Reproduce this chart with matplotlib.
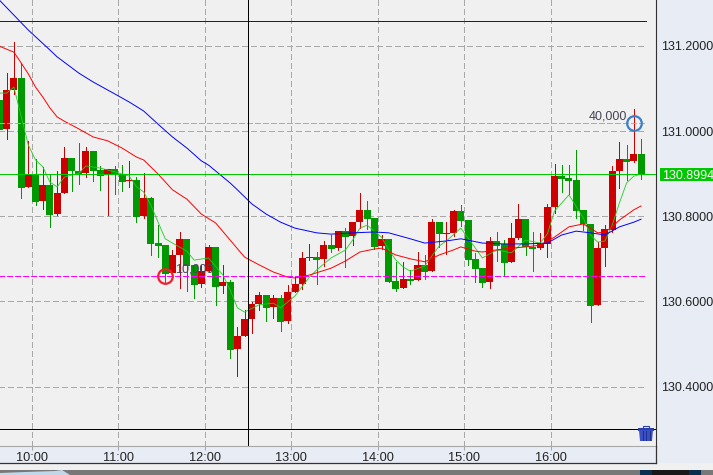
import matplotlib
matplotlib.use('Agg')
import matplotlib.pyplot as plt
from matplotlib.patches import Rectangle, Polygon
import numpy as np

plt.rcParams['font.family'] = ['Liberation Sans', 'DejaVu Sans']

# 5 minute candles
opens = [131.073,131.005,131.096,131.124,130.869,130.899,130.836,130.873,130.805,130.855,
         130.937,130.906,130.901,130.953,130.908,130.897,130.910,130.897,130.883,130.885,
         130.800,130.843,130.737,130.732,130.667,130.709,130.747,130.685,130.641,130.671,
         130.728,130.636,130.646,130.488,130.519,130.559,130.594,130.615,130.587,130.608,
         130.554,130.622,130.641,130.702,130.704,130.699,130.732,130.725,130.765,130.754,
         130.786,130.815,130.796,130.730,130.747,130.648,130.631,130.653,130.650,130.685,
         130.671,130.786,130.758,130.761,130.812,130.791,130.699,130.678,130.646,130.742,
         130.735,130.693,130.749,130.793,130.728,130.725,130.735,130.822,130.894,130.890,
         130.885,130.815,130.782,130.592,130.725,130.768,130.906,130.934,130.930,130.946]
closes = [131.002,131.096,131.124,130.867,130.899,130.834,130.873,130.804,130.855,130.937,
          130.905,130.899,130.953,130.905,130.895,130.910,130.897,130.880,130.885,130.798,
          130.843,130.735,130.730,130.664,130.709,130.747,130.683,130.638,130.671,130.728,
          130.634,130.646,130.486,130.519,130.559,130.594,130.615,130.585,130.608,130.552,
          130.622,130.641,130.702,130.704,130.697,130.732,130.723,130.765,130.751,130.786,
          130.815,130.793,130.728,130.747,130.646,130.629,130.653,130.648,130.685,130.669,
          130.786,130.758,130.761,130.812,130.789,130.697,130.676,130.643,130.742,130.730,
          130.690,130.749,130.793,130.728,130.723,130.735,130.822,130.894,130.888,130.883,
          130.812,130.782,130.589,130.725,130.770,130.906,130.934,130.927,130.946,130.899]
highs = [131.073,131.137,131.209,131.159,130.977,130.934,130.916,130.899,130.906,130.962,
         130.937,130.972,130.962,130.953,130.918,130.910,130.918,130.920,130.930,130.892,
         130.901,130.845,130.779,130.732,130.721,130.763,130.747,130.685,130.685,130.732,
         130.728,130.685,130.650,130.540,130.580,130.599,130.622,130.615,130.615,130.615,
         130.638,130.657,130.716,130.735,130.716,130.742,130.756,130.765,130.772,130.786,
         130.855,130.836,130.796,130.756,130.747,130.693,130.693,130.674,130.716,130.709,
         130.793,130.786,130.786,130.815,130.826,130.791,130.714,130.678,130.751,130.763,
         130.744,130.784,130.829,130.793,130.763,130.761,130.829,130.923,130.920,130.920,
         130.955,130.815,130.782,130.739,130.779,130.918,130.974,130.967,131.052,130.981]
lows = [131.002,130.981,131.087,130.843,130.869,130.827,130.817,130.775,130.803,130.855,
        130.859,130.876,130.892,130.883,130.862,130.803,130.852,130.859,130.868,130.786,
        130.796,130.709,130.704,130.646,130.667,130.631,130.624,130.608,130.634,130.671,
        130.592,130.620,130.467,130.425,130.519,130.526,130.580,130.554,130.561,130.531,
        130.549,130.622,130.629,130.697,130.641,130.683,130.716,130.721,130.681,130.732,
        130.772,130.770,130.723,130.723,130.646,130.624,130.631,130.641,130.650,130.653,
        130.671,130.728,130.711,130.754,130.777,130.685,130.646,130.634,130.631,130.695,
        130.660,130.693,130.746,130.709,130.671,130.723,130.704,130.808,130.857,130.852,
        130.796,130.768,130.552,130.592,130.683,130.763,130.866,130.885,130.927,130.887]

# moving averages, read at some of the candles
blue_k = [0,4,7,8,11,13,16,18,20,22,24,26,28,29,32,33,35,37,39,41,44,46,49,52,54,57,59,62,64,67,70,73,76,78,80,82,84,86,88,89]
blue_v = [131.307,131.237,131.190,131.174,131.136,131.115,131.087,131.068,131.047,131.016,130.986,130.960,130.930,130.920,
          130.878,130.862,130.829,130.805,130.786,130.772,130.761,130.758,130.761,130.763,130.761,130.747,130.737,130.742,
          130.747,130.737,130.735,130.735,130.737,130.756,130.765,130.761,130.756,130.775,130.786,130.793]
red_k = [0,1,2,3,4,5,6,7,8,9,11,13,15,17,19,20,22,24,26,28,30,32,34,36,38,40,41,43,46,48,50,52,53,55,57,59,61,63,64,66,67,69,71,73,75,77,79,81,83,84,85,86,88,89]
red_v = [131.199,131.192,131.185,131.160,131.134,131.103,131.080,131.054,131.033,131.023,131.005,130.986,130.977,130.960,
         130.939,130.932,130.899,130.862,130.840,130.805,130.784,130.744,130.704,130.686,130.669,130.657,130.655,130.662,
         130.678,130.695,130.716,130.723,130.725,130.709,130.700,130.693,130.709,130.721,130.728,130.718,130.716,130.721,
         130.725,130.728,130.732,130.751,130.775,130.782,130.761,130.763,130.775,130.791,130.815,130.824]
lime_k = [0,1,2,3,4,5,6,7,8,9,11,12,14,16,18,19,20,21,22,23,24,26,27,29,31,32,33,34,36,38,39,41,43,44,46,48,49,50,51,53,54,55,56,57,59,60,61,62,64,65,67,69,71,73,75,76,77,79,81,82,83,84,85,86,87,88,89]
lime_v = [131.089,131.089,131.103,131.035,130.967,130.932,130.916,130.880,130.869,130.892,130.901,130.918,130.913,130.904,
          130.894,130.869,130.857,130.826,130.786,130.747,130.737,130.718,130.697,130.702,130.662,130.627,130.585,130.575,
          130.592,130.596,130.585,130.613,130.657,130.674,130.702,130.721,130.744,130.772,130.779,130.751,130.721,130.697,
          130.681,130.671,130.683,130.707,130.730,130.742,130.772,130.749,130.702,130.721,130.714,130.744,130.737,130.758,
          130.812,130.850,130.796,130.756,130.739,130.742,130.779,130.831,130.878,130.894,130.899]

price_ticks = [130.4, 130.6, 130.8, 131.0, 131.2]
price_labels = ['130.4000', '130.6000', '130.8000', '131.0000', '131.2000']
hour_ticks = [4.5, 16.5, 28.5, 40.5, 52.5, 64.5, 76.5]
hour_labels = ['10:00', '11:00', '12:00', '13:00', '14:00', '15:00', '16:00']

last_price = 130.8994
top_line = 131.258
cyan_line = 131.018
pink_line = 130.659
low_line = 130.300
cursor_k = 34.5

W, H = 713, 475
AX_R, AX_B = 656, 446
BG = '#f0f0f0'
PANEL = '#e8ecf5'
RED = '#cc0000'
GREEN = '#009900'
PX = 0.66  # about one pixel when not antialiased

fig = plt.figure(figsize=(W/100, H/100), dpi=100, facecolor=PANEL)
ax = fig.add_axes([0, 1-AX_B/H, AX_R/W, AX_B/H], facecolor=BG)
ax.set_xlim(0.07, 91.08)
ax.set_ylim(130.2607, 131.3075)

k = np.arange(len(opens))
o = np.array(opens)
c = np.array(closes)
colors = [RED if b >= a else GREEN for a, b in zip(opens, closes)]

# grid under everything
for p in price_ticks:
    ax.plot([0, 89.7], [p, p], color='#a8a8a8', lw=PX, ls=(0, (6, 4)), antialiased=False, zorder=1)
for h in hour_ticks:
    ax.axvline(h, color='#a8a8a8', lw=PX, ls=(0, (6, 4)), antialiased=False, zorder=1)

ax.vlines(k, lows, highs, colors=colors, lw=PX, antialiased=False, zorder=2)
ax.bar(k, np.maximum(np.abs(c-o), 0.0024), bottom=np.minimum(o, c), width=0.97,
       color=colors, linewidth=0, antialiased=False, zorder=3)

ax.plot(lime_k, lime_v, color='#22cc22', lw=0.6, zorder=4)
ax.plot(red_k, red_v, color='#ff0000', lw=0.7, zorder=4)
ax.plot(blue_k, blue_v, color='#0000ff', lw=0.7, zorder=4)

ax.plot([0, 89.7], [top_line, top_line], color='#222222', lw=PX, ls=(0, (3, 1)), antialiased=False, zorder=5)
ax.plot([0, 89.7], [cyan_line, cyan_line], color='#22e6e6', lw=PX, ls=(0, (6, 3)), antialiased=False, zorder=5)
ax.plot([0, 89.7], [pink_line, pink_line], color='#ff00ff', lw=PX, ls=(0, (6, 3)), antialiased=False, zorder=5)
ax.axhline(last_price, color='#00c800', lw=PX, antialiased=False, zorder=5)
ax.axhline(low_line, color='black', lw=PX, antialiased=False, zorder=5)
ax.axvline(cursor_k, color='black', lw=PX, antialiased=False, zorder=5)

# trade markers
ax.plot([23], [pink_line], marker='o', ms=10.5, mfc='none', mec='#f02030', mew=1.6, zorder=6)
ax.text(24.4, pink_line+0.016, '10,000', fontsize=9, color='#444455', va='center', zorder=6)
ax.plot([88], [cyan_line], marker='o', ms=10.5, mfc='none', mec='#3a80c4', mew=1.6, zorder=6)
ax.text(81.7, cyan_line+0.016, '40,000', fontsize=9, color='#444455', va='center', zorder=6)

ax.set_xticks(hour_ticks, hour_labels, fontsize=9.2, color='#222222')
ax.tick_params(axis='x', length=3, width=PX, color='#a0a0a0', pad=1.5)
ax.yaxis.tick_right()
ax.set_yticks(price_ticks, price_labels, fontsize=9, color='#222222')
ax.tick_params(axis='y', length=0, pad=4)
for side in ['top', 'left']:
    ax.spines[side].set_visible(False)
ax.spines['bottom'].set_color('#a8a8a8')
ax.spines['right'].set_color('#333333')

# window chrome, in pixels
over = fig.add_axes([0, 0, 1, 1], facecolor='none')
over.set_xlim(0, W)
over.set_ylim(H, 0)
over.axis('off')
over.add_patch(Rectangle((0, 463), W, 7, color='#f0f0f0', lw=0))
over.add_patch(Rectangle((0, 470), W, 5, color='#787878', lw=0))
over.add_patch(Polygon([(0, 475), (0, 473), (25, 472), (55, 471), (62, 470), (70, 475)], color='#c0d8ea', lw=0))
over.add_patch(Rectangle((640, 470), 61, 5, color='#0a3050', lw=0))
over.add_patch(Rectangle((652, 470), 37, 5, color='#181818', lw=0))
over.plot([0, AX_R], [463, 463], color='#333333', lw=0.9)
over.plot([AX_R, AX_R], [446, 463], color='#333333', lw=0.9)

over.add_patch(Rectangle((660, 168), 53, 12.5, color='#00c800', lw=0))
over.text(662, 174.5, '130.8994', color='white', fontsize=9, va='center_baseline')

# trash can
over.add_patch(Rectangle((638, 428), 16, 2.5, color='#2a3fa8', lw=0))
over.add_patch(Rectangle((643, 425.5), 6, 2.5, fc='none', ec='#2a3fa8', lw=0.8))
over.add_patch(Polygon([(639, 430), (653, 430), (652, 441), (640, 441)], color='#3a4fc0', lw=0))
for tx in [642.5, 646, 649.5]:
    over.plot([tx, tx], [431, 440], color='#1f2f90', lw=0.7)

fig.savefig('out.png', dpi=100, facecolor=fig.get_facecolor())
